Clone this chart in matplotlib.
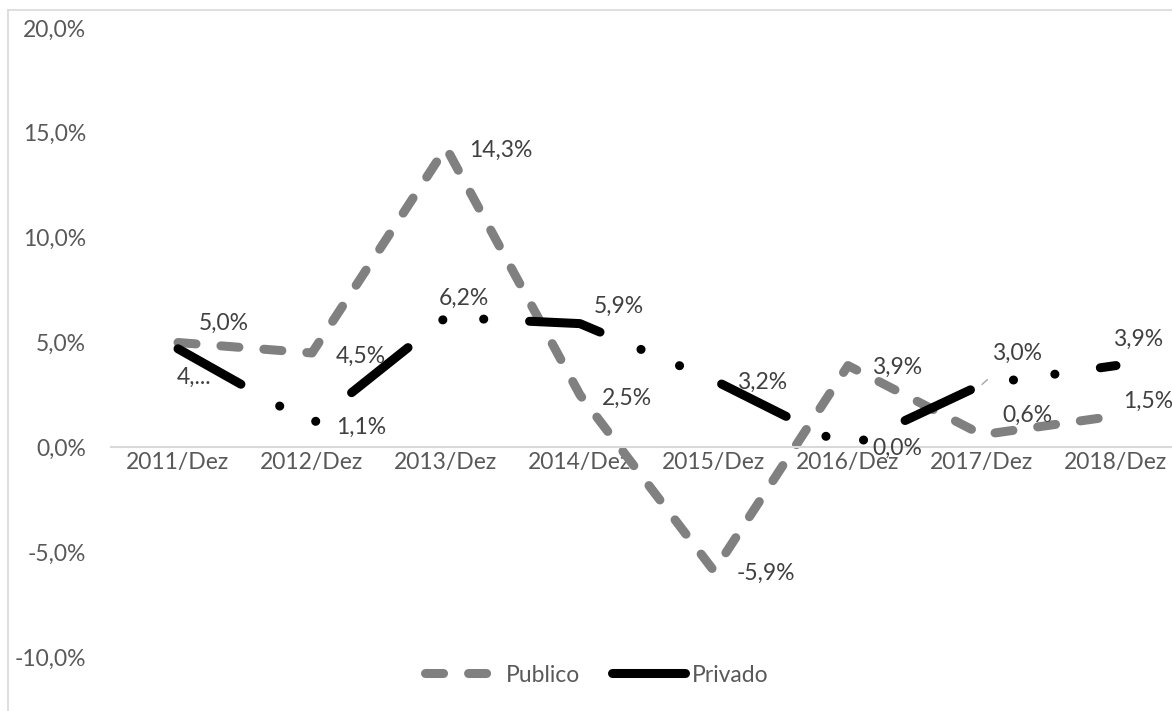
import matplotlib.pyplot as plt
from matplotlib.lines import Line2D
from matplotlib.ticker import FuncFormatter

plt.rcParams['font.family'] = ['Lato', 'DejaVu Sans']
plt.rcParams['lines.scale_dashes'] = False

categorias = ['2011/Dez', '2012/Dez', '2013/Dez', '2014/Dez',
              '2015/Dez', '2016/Dez', '2017/Dez', '2018/Dez']
publico = [5.0, 4.5, 14.3, 2.5, -5.9, 3.9, 0.6, 1.5]
privado = [4.7, 1.1, 6.2, 5.9, 3.2, 0.0, 3.0, 3.9]

# posicao dos rotulos em relacao ao ponto (pixels)
desloc_publico = [(46, 19), (49, -3), (55, -3), (47, -3), (52, -2), (49, -2), (45, 19), (32, 15)]
desloc_privado = [(16, -29), (49, -3), (18, 19), (39, 17), (48, -2), (49, -1), (35, 31), (22, 26)]
texto_privado = ['4,...', None, None, None, None, None, None, None]

cinza = '#808080'
texto_cor = '#595959'
fs = 16.5

fig = plt.figure(figsize=(11.72, 7.11), dpi=100)
ax = fig.add_axes([111 / 1172, 1 - 657 / 711, 1072 / 1172, 629 / 711])

x = list(range(len(categorias)))
ax.plot(x, publico, color=cinza, lw=6.5, dashes=(13, 18),
        dash_capstyle='round', solid_capstyle='round', label='Publico')
ax.plot(x, privado, color='black', lw=6.5, dashes=(52, 32, 0.1, 30, 0.1, 33),
        dash_capstyle='round', solid_capstyle='round', label='Privado')

def pct(v):
    return '{:.1f}%'.format(v).replace('.', ',')

for i, v in enumerate(publico):
    ax.annotate(pct(v), (i, v), xytext=desloc_publico[i], textcoords='offset pixels',
                ha='center', va='center', fontsize=fs, color='#404040')
for i, v in enumerate(privado):
    txt = texto_privado[i] or pct(v)
    if i == 6:
        ax.annotate(txt, (i, v), xytext=desloc_privado[i], textcoords='offset pixels',
                    ha='center', va='center', fontsize=fs, color='#404040',
                    arrowprops=dict(arrowstyle='-', color='#a6a6a6', lw=1,
                                    shrinkA=14, shrinkB=0))
    else:
        ax.annotate(txt, (i, v), xytext=desloc_privado[i], textcoords='offset pixels',
                    ha='center', va='center', fontsize=fs, color='#404040')

ax.set_xlim(-0.5, 7.5)
ax.set_ylim(-10, 20)
ax.set_yticks([-10, -5, 0, 5, 10, 15, 20])
ax.yaxis.set_major_formatter(FuncFormatter(lambda v, p: pct(v)))
ax.set_xticks(x)
ax.set_xticklabels(categorias)

for s in ['top', 'right', 'left']:
    ax.spines[s].set_visible(False)
ax.spines['bottom'].set_position(('data', 0))
ax.spines['bottom'].set_color('#d9d9d9')
ax.spines['bottom'].set_linewidth(1.5)
ax.tick_params(axis='both', length=0, labelsize=fs, labelcolor=texto_cor)
ax.tick_params(axis='y', pad=18)
ax.tick_params(axis='x', pad=3)

handles = [Line2D([], [], color=cinza, lw=6.5, dashes=(13, 18), dash_capstyle='round'),
           Line2D([], [], color='black', lw=6.5, solid_capstyle='round')]
fig.legend(handles, ['Publico', 'Privado'], loc='center', bbox_to_anchor=(597 / 1172, 1 - 675 / 711),
           ncol=2, frameon=False, fontsize=fs, labelcolor=texto_cor,
           handlelength=3.2, handletextpad=0.3, columnspacing=1.4)

# borda da area do grafico
fig.add_artist(Line2D([8 / 1172, 8 / 1172], [0, 1 - 10 / 711], color='#d9d9d9', lw=1.2,
                      transform=fig.transFigure))
fig.add_artist(Line2D([8 / 1172, 1], [1 - 10 / 711, 1 - 10 / 711], color='#d9d9d9', lw=1.2,
                      transform=fig.transFigure))

fig.savefig('out.png', dpi=100)
